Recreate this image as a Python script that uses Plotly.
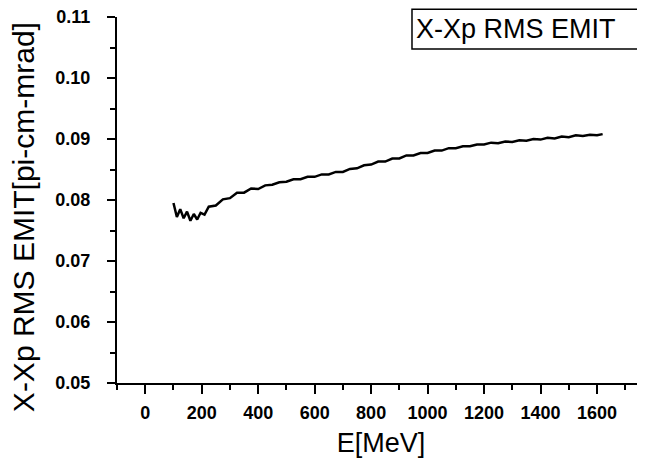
import plotly.graph_objects as go

# Energia (MeV) e emitância RMS X-Xp
energia = [100, 112, 124, 136, 148, 160, 172, 184, 196, 210,
           225, 250, 275, 300, 325, 350, 375, 400, 425, 450,
           475, 500, 525, 550, 575, 600, 625, 650, 675, 700,
           725, 750, 775, 800, 825, 850, 875, 900, 925, 950,
           975, 1000, 1025, 1050, 1075, 1100, 1125, 1150, 1175, 1200,
           1225, 1250, 1275, 1300, 1325, 1350, 1375, 1400, 1425, 1450,
           1475, 1500, 1525, 1550, 1575, 1600, 1620]
emit = [0.0795, 0.0772, 0.0785, 0.0770, 0.0781, 0.0766, 0.0777, 0.0768, 0.0779, 0.0776,
        0.0789, 0.0791, 0.0801, 0.0803, 0.0812, 0.0812, 0.0819, 0.0818, 0.0824, 0.0825,
        0.0829, 0.0830, 0.0834, 0.0834, 0.0838, 0.0838, 0.0842, 0.0842, 0.0846, 0.0846,
        0.0851, 0.0852, 0.0857, 0.0858, 0.0863, 0.0863, 0.0868, 0.0868, 0.0873, 0.0873,
        0.0877, 0.0877, 0.0881, 0.0881, 0.0885, 0.0885, 0.0888, 0.0888, 0.0891, 0.0891,
        0.0894, 0.0893, 0.0896, 0.0895, 0.0898, 0.0897, 0.0900, 0.0899, 0.0902, 0.0901,
        0.0904, 0.0903, 0.0906, 0.0905, 0.0907, 0.0906, 0.0908]

ticks_y = [0.05, 0.06, 0.07, 0.08, 0.09, 0.10, 0.11]
ticks_x = [0, 200, 400, 600, 800, 1000, 1200, 1400, 1600]

fonte = "Liberation Sans, Arial, sans-serif"

fig = go.Figure()
fig.add_trace(go.Scatter(x=energia, y=emit, mode='lines',
                         line=dict(color='black', width=2.5),
                         showlegend=False))

eixo = dict(
    showline=True, linecolor='black', linewidth=2,
    showgrid=False, zeroline=False,
    ticks='outside', tickcolor='black', tickwidth=2,
    ticklabeloverflow='allow',
    tickfont=dict(family=fonte, size=18, color='black', weight='bold'),
)

# o body da página tem margem de 8px: figura menor para não haver scroll
fig.update_layout(
    width=637, height=450,
    paper_bgcolor='white', plot_bgcolor='white',
    margin=dict(l=109, r=0, t=9, b=75),
    font=dict(family=fonte, color='black'),
    xaxis=dict(eixo, range=[-100, 1770], tickvals=ticks_x, ticklen=9,
               ticklabelstandoff=3,
               minor=dict(ticks='outside', ticklen=5, tickwidth=2,
                          tickcolor='black', tick0=-100, dtick=100),
               title=dict(text='E[MeV]', font=dict(size=27), standoff=14)),
    yaxis=dict(eixo, range=[0.05, 0.11], tickvals=ticks_y, ticklen=8,
               tickformat='.2f', ticklabelstandoff=13,
               minor=dict(ticks='outside', ticklen=5, tickwidth=2,
                          tickcolor='black', tick0=0.055, dtick=0.01)),
)

# título do eixo y como anotação para acertar a posição
fig.add_annotation(
    text='X-Xp RMS EMIT[pi-cm-mrad]', xref='paper', yref='paper',
    x=-0.212, y=0.452, textangle=-90, showarrow=False,
    font=dict(family=fonte, size=30, color='black'),
)

# caixa da legenda: só as bordas de cima, baixo e esquerda (a direita sai da janela)
fig.add_shape(type='path', xref='paper', yref='paper',
              path='M 1.5,0.9126 L 0.5587,0.9126 L 0.5587,1.021 L 1.5,1.021',
              line=dict(color='black', width=1.5))
fig.add_annotation(
    text='X-Xp RMS EMIT', xref='paper', yref='paper',
    x=0.5625, y=0.968, xanchor='left', yanchor='middle', showarrow=False,
    font=dict(family=fonte, size=27, color='black'),
)

fig.write_html("out.html")
